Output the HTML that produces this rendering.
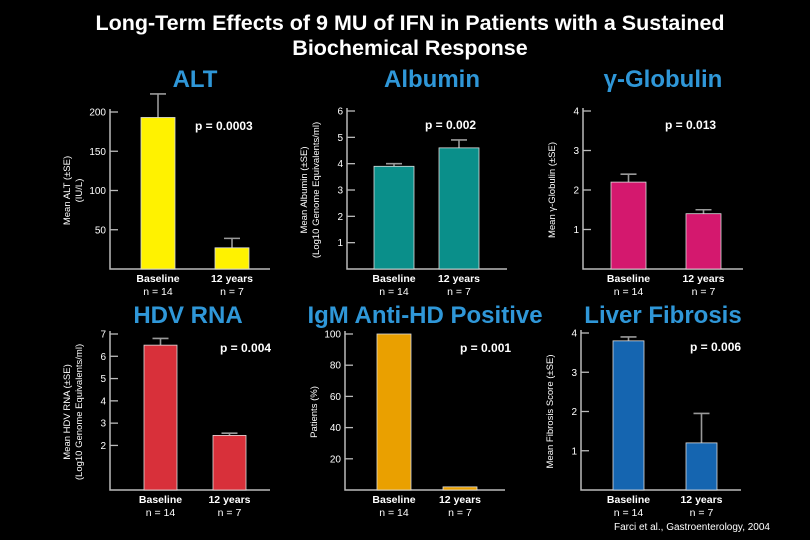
<!DOCTYPE html>
<html><head><meta charset="utf-8"><style>
html,body{margin:0;padding:0;background:#000;}
svg{display:block;font-family:"Liberation Sans",Arial,sans-serif;}
</style></head><body>
<svg id="chart" width="810" height="540" viewBox="0 0 810 540">
<rect width="810" height="540" fill="#000"/>
<text x="410" y="30" fill="#fff" font-size="21.5" font-weight="bold" text-anchor="middle">Long-Term Effects of 9 MU of IFN in Patients with a Sustained</text>
<text x="410" y="55" fill="#fff" font-size="21.5" font-weight="bold" text-anchor="middle">Biochemical Response</text>
<text x="770" y="530" fill="#fff" font-size="10" text-anchor="end">Farci et al., Gastroenterology, 2004</text>
<g id="panels"></g>
</svg>
<script>
const categories = ["Baseline", "12 years"];
const nLabels = ["n = 14", "n = 7"];
const panelTitles = ["ALT", "Albumin", "\u03B3-Globulin", "HDV RNA", "IgM Anti-HD Positive", "Liver Fibrosis"];
const pValues = ["p = 0.0003", "p = 0.002", "p = 0.013", "p = 0.004", "p = 0.001", "p = 0.006"];
const altValues = [193, 27];
const altErrors = [223, 39];
const albuminValues = [3.9, 4.6];
const albuminErrors = [4.0, 4.9];
const globulinValues = [2.2, 1.4];
const globulinErrors = [2.4, 1.5];
const hdvValues = [6.5, 2.45];
const hdvErrors = [6.8, 2.55];
const igmValues = [100, 2];
const igmErrors = [null, null];
const fibrosisValues = [3.8, 1.2];
const fibrosisErrors = [3.9, 1.95];
const altTicks = [50, 100, 150, 200];
const albuminTicks = [1, 2, 3, 4, 5, 6];
const globulinTicks = [1, 2, 3, 4];
const hdvTicks = [2, 3, 4, 5, 6, 7];
const igmTicks = [20, 40, 60, 80, 100];
const fibrosisTicks = [1, 2, 3, 4];

const NS = "http://www.w3.org/2000/svg";
const root = document.getElementById("panels");
function mk(tag, attrs, parent, text) {
  const e = document.createElementNS(NS, tag);
  for (const k in attrs) e.setAttribute(k, attrs[k]);
  if (text !== undefined) e.textContent = text;
  parent.appendChild(e);
  return e;
}
const panels = [
  {i:0, ax:110, y0:269, yTop:112, ty:87, max:200, ticks:altTicks, vals:altValues, errs:altErrors, color:"#fff200", bx:[141,215], bw:34, ylab:["Mean ALT (\u00B1SE)","(IU/L)"], cx:195, px:195},
  {i:1, ax:347, y0:269, yTop:111, ty:87, max:6, ticks:albuminTicks, vals:albuminValues, errs:albuminErrors, color:"#0a8f8a", bx:[374,439], bw:40, ylab:["Mean Albumin (\u00B1SE)","(Log10 Genome Equivalents/ml)"], cx:432, px:425},
  {i:2, ax:583, y0:269, yTop:111, ty:87, max:4, ticks:globulinTicks, vals:globulinValues, errs:globulinErrors, color:"#d4186e", bx:[611,686], bw:35, ylab:["Mean \u03B3-Globulin (\u00B1SE)"], cx:663, px:665},
  {i:3, ax:110, y0:490, yTop:334, ty:323, max:7, ticks:hdvTicks, vals:hdvValues, errs:hdvErrors, color:"#d8303a", bx:[144,213], bw:33, ylab:["Mean HDV RNA (\u00B1SE)","(Log10 Genome Equivalents/ml)"], cx:188, px:220},
  {i:4, ax:345, y0:490, yTop:334, ty:323, max:100, ticks:igmTicks, vals:igmValues, errs:igmErrors, color:"#eaa000", bx:[377,443], bw:34, ylab:["Patients (%)"], cx:425, px:460},
  {i:5, ax:581, y0:490, yTop:333, ty:323, max:4, ticks:fibrosisTicks, vals:fibrosisValues, errs:fibrosisErrors, color:"#1565b0", bx:[613,686], bw:31, ylab:["Mean Fibrosis Score (\u00B1SE)"], cx:663, px:690}
];
panels.forEach(p => {
  const g = mk("g", {}, root);
  
  
  const y = v => p.y0 - (v / p.max) * (p.y0 - p.yTop);
  const t = mk("text", {x:p.cx, y:p.ty, fill:"#2f97d8", "font-size":24, "font-weight":"bold", "text-anchor":"middle"}, g, panelTitles[p.i]);
  
  
  const ax = mk("path", {d:`M${p.ax} ${p.yTop-3}V${p.y0}H${p.ax+160}`, stroke:"#bbb", "stroke-width":1.5, fill:"none"}, g);
  
  
  p.ticks.forEach(tv => {
    const ty = y(tv);
    const tl = mk("line", {x1:p.ax, x2:p.ax+8, y1:ty, y2:ty, stroke:"#bbb", "stroke-width":1.3}, g);
    
    
    const tt = mk("text", {x:p.ax-4, y:ty+3.5, fill:"#fff", "font-size":10, "text-anchor":"end"}, g, String(tv));
    
    
  });
  const lx = p.ax - 28 - (p.ylab.length - 1) * 12;
  const mid = (p.y0 + p.yTop) / 2;
  p.ylab.forEach((s, k) => {
    const yl = mk("text", {x:0, y:0, fill:"#fff", "font-size":9.5, "text-anchor":"middle", transform:`translate(${lx + k*12},${mid}) rotate(-90)`}, g, s);
    
    
  });
  p.vals.forEach((v, k) => {
    const x = p.bx[k];
    if (p.errs[k] != null) {
      const e = mk("path", {d:`M${x+p.bw/2} ${y(v)}V${y(p.errs[k])}M${x+p.bw/2-8} ${y(p.errs[k])}H${x+p.bw/2+8}`, stroke:"#999", "stroke-width":1.6, fill:"none"}, g);
      
      
    }
    const b = mk("rect", {x:x, y:y(v), width:p.bw, height:p.y0 - y(v), fill:p.color, stroke:"#ddd", "stroke-width":0.8}, g);
    
    
    const c = mk("text", {x:x+p.bw/2, y:p.y0+13, fill:"#fff", "font-size":10.5, "font-weight":"bold", "text-anchor":"middle"}, g, categories[k]);
    
    
    const n = mk("text", {x:x+p.bw/2, y:p.y0+26, fill:"#fff", "font-size":10.5, "text-anchor":"middle"}, g, nLabels[k]);
    
    
  });
  const pv = mk("text", {x:p.px, y:p.yTop+18, fill:"#fff", "font-size":12, "font-weight":"bold", "text-anchor":"start"}, g, pValues[p.i]);
  
  
});
</script>
</body></html>
